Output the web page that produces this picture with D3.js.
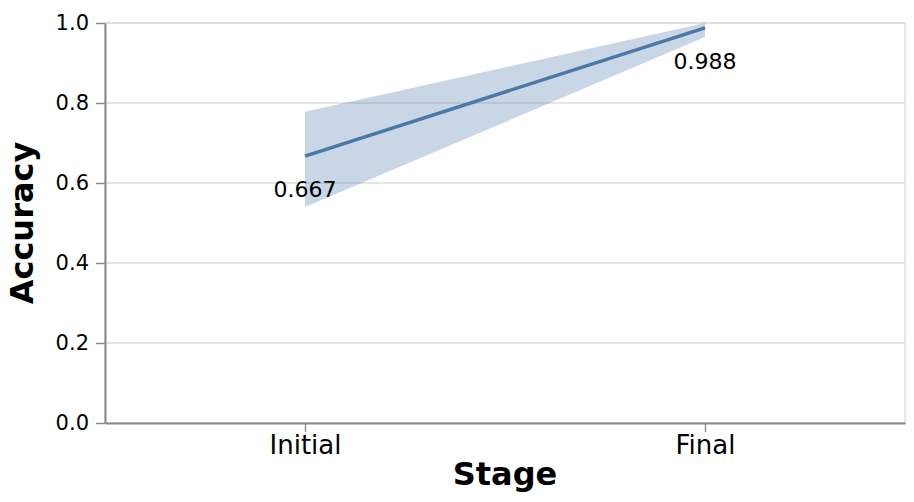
<!DOCTYPE html>
<html>
<head>
<meta charset="utf-8">
<script src="https://cdn.jsdelivr.net/npm/d3@7"></script>
<style>
  body { margin: 0; background: #fff; }
  svg { font-family: "DejaVu Sans", sans-serif; }
</style>
</head>
<body>
<svg id="chart" width="914" height="502"></svg>
<script>
// data
var stages = ["Initial", "Final"];
var accuracy = [0.667, 0.988];
var lower = [0.54, 0.965];
var upper = [0.778, 1.0];
var yTicks = [0, 0.2, 0.4, 0.6, 0.8, 1.0];

var margin = {top: 23, right: 9, bottom: 79, left: 105};
var width = 914 - margin.left - margin.right,   // 800
    height = 502 - margin.top - margin.bottom;  // 400

var svg = d3.select("#chart");
var g = svg.append("g")
  .attr("transform", "translate(" + margin.left + "," + margin.top + ")");

var x = d3.scalePoint().domain(stages).range([0, width]).padding(0.5);
var y = d3.scaleLinear().domain([0, 1]).range([height, 0]);

var rows = stages.map(function(s, i) {
  return {stage: s, acc: accuracy[i], lo: lower[i], hi: upper[i]};
});

// grid
g.append("g")
  .selectAll("line")
  .data(yTicks)
  .enter()
  .append("line")
  .attr("x1", 0).attr("x2", width)
  .attr("y1", function(d){ return y(d); })
  .attr("y2", function(d){ return y(d); })
  .style("stroke", "#ddd")
  .style("stroke-width", 1.4);

// frame
g.append("rect")
  .attr("width", width).attr("height", height)
  .style("fill", "none")
  .style("stroke", "#ddd")
  .style("stroke-width", 1.4);

// band
var area = d3.area()
  .x(function(d){ return x(d.stage); })
  .y0(function(d){ return y(d.lo); })
  .y1(function(d){ return y(d.hi); });
g.append("path")
  .datum(rows)
  .attr("d", area)
  .style("fill", "#4c78a8")
  .style("fill-opacity", 0.3);

// line
var line = d3.line()
  .x(function(d){ return x(d.stage); })
  .y(function(d){ return y(d.acc); });
g.append("path")
  .datum(rows)
  .attr("d", line)
  .style("fill", "none")
  .style("stroke", "#4c78a8")
  .style("stroke-width", 3.5);

// value labels
g.selectAll(".val")
  .data(rows)
  .enter()
  .append("text")
  .attr("class", "val")
  .attr("x", function(d){ return x(d.stage); })
  .attr("y", function(d){ return y(d.acc) + 41; })
  .attr("text-anchor", "middle")
  .style("font-size", "22px")
  .style("fill", "#000")
  .text(function(d){ return d3.format(".3f")(d.acc); });

// y axis
var yAxis = g.append("g")
  .call(d3.axisLeft(y).tickValues(yTicks).tickFormat(d3.format(".1f")).tickSize(9).tickSizeOuter(0).tickPadding(7));
yAxis.select(".domain").style("stroke", "#888").style("stroke-width", 2);
yAxis.selectAll(".tick line").style("stroke", "#888").style("stroke-width", 1.4);
yAxis.selectAll("text")
  .style("font-size", "21px")
  .style("font-family", "DejaVu Sans, sans-serif")
  .style("fill", "#000");

// x axis
var xAxis = g.append("g")
  .attr("transform", "translate(0," + height + ")")
  .call(d3.axisBottom(x).tickSize(9).tickSizeOuter(0).tickPadding(4));
xAxis.select(".domain").style("stroke", "#888").style("stroke-width", 2);
xAxis.selectAll(".tick line").style("stroke", "#888").style("stroke-width", 1.4);
xAxis.selectAll("text")
  .style("font-size", "26px")
  .style("font-family", "DejaVu Sans, sans-serif")
  .style("fill", "#000");

// titles
svg.append("text")
  .attr("x", margin.left + width / 2)
  .attr("y", 485)
  .attr("text-anchor", "middle")
  .style("font-size", "32px")
  .style("font-weight", "bold")
  .text("Stage");

svg.append("text")
  .attr("transform", "translate(33," + (margin.top + height / 2) + ") rotate(-90)")
  .attr("text-anchor", "middle")
  .style("font-size", "32px")
  .style("font-weight", "bold")
  .text("Accuracy");
</script>
</body>
</html>
